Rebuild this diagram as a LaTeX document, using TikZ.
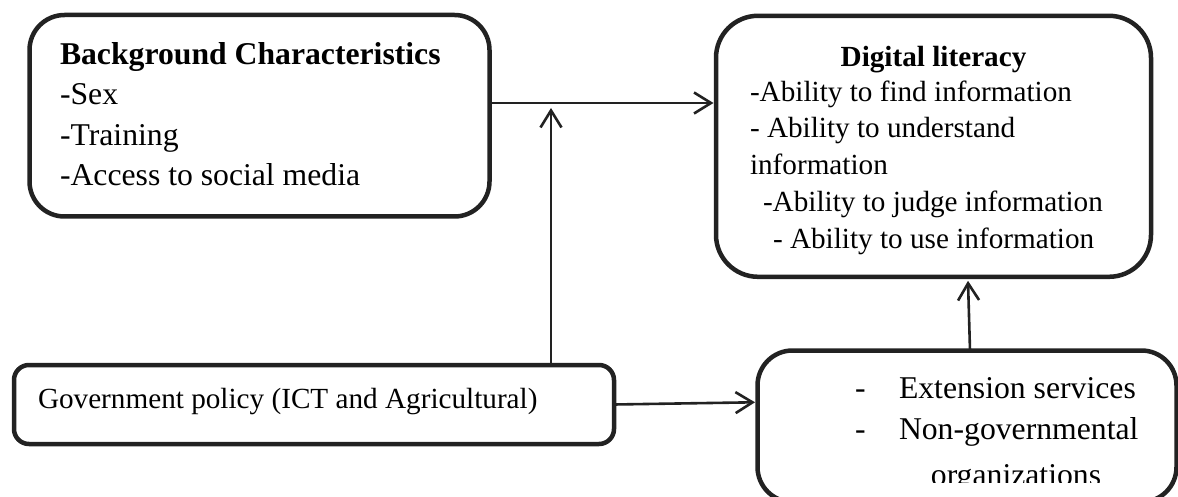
\documentclass[tikz,border=0pt]{standalone}
\usepackage{fontspec}
\setmainfont{Liberation Serif}
\usetikzlibrary{arrows.meta,calc}
\definecolor{ink}{HTML}{222222}
\begin{document}
\begin{tikzpicture}[x=1pt,y=-1pt,
  box/.style={draw=ink, line width=4.5pt, inner sep=0pt, outer sep=0pt},
  arr/.style={draw=ink, line width=2.6pt, -{Straight Barb[length=17pt,width=21pt]}},
  big/.style={font=\fontsize{31.7}{38}\selectfont},
  bigb/.style={font=\fontsize{31.7}{38}\selectfont\bfseries},
  small/.style={font=\fontsize{29.2}{36}\selectfont},
  smallb/.style={font=\fontsize{29.2}{36}\selectfont\bfseries},
  txt/.style={anchor=base west, inner sep=0pt, outer sep=0pt},
]
\useasboundingbox (0,0) rectangle (1178,497);
\begin{scope}
\clip (0,0) rectangle (1178,497);
% boxes
\node[box, rounded corners=35pt, minimum width=460pt, minimum height=201.5pt] (bg) at (259.5,115.75) {};
\node[box, rounded corners=42pt, minimum width=435pt, minimum height=261pt] (dl) at (933.5,146.3) {};
\node[box, rounded corners=15pt, minimum width=600pt, minimum height=79pt] (gov) at (314,404.5) {};
\node[box, rounded corners=35pt, minimum width=419pt, minimum height=151.5pt] (ext) at (967,426.25) {};

% background characteristics text
\node[txt, bigb] (bg1) at (60,65) {Background Characteristics};
\node[txt, big] (bg2) at (60,105) {-Sex};
\node[txt, big] (bg3) at (60,146) {-Training};
\node[txt, big] (bg4) at (60,186) {-Access to social media};

% digital literacy text
\node[anchor=base, inner sep=0pt, smallb] (dl0) at (933.5,67) {Digital literacy};
\node[txt, small] (dl1) at (750,102) {-Ability to find information};
\node[txt, small] (dl2) at (750,138) {- Ability to understand};
\node[txt, small] (dl3) at (750,175) {information};
\node[txt, small] (dl4) at (763,212) {-Ability to judge information};
\node[txt, small] (dl5) at (773,248) {- Ability to use information};

% government text
\node[txt, small] (gov1) at (38,408) {Government policy (ICT and Agricultural)};

% extension text
\node[txt, big] (ex1d) at (855,398) {-};
\node[txt, big] (ex1) at (899,398) {Extension services};
\node[txt, big] (ex2d) at (855,439) {-};
\node[txt, big] (ex2) at (899,439) {Non-governmental};
\begin{scope}
\clip (700,0) rectangle (1178,482);
\node[anchor=base, inner sep=0pt, big] (ex3) at (1016,485) {organizations};
\end{scope}

% connectors
\draw[arr, shorten >=2.5pt] ([yshift=12.75pt]bg.east) coordinate (a1) -- (a1 -| dl.west);
\coordinate (tipB) at (551,108);
\draw[arr] (gov.north -| tipB) -- (tipB);
\draw[arr, shorten >=2.5pt] (gov.east) -- ([yshift=24pt]ext.west);
\draw[arr] ([xshift=3pt]ext.north) -- ([xshift=34.5pt,yshift=-4pt]dl.south);
\end{scope}
\end{tikzpicture}
\end{document}
